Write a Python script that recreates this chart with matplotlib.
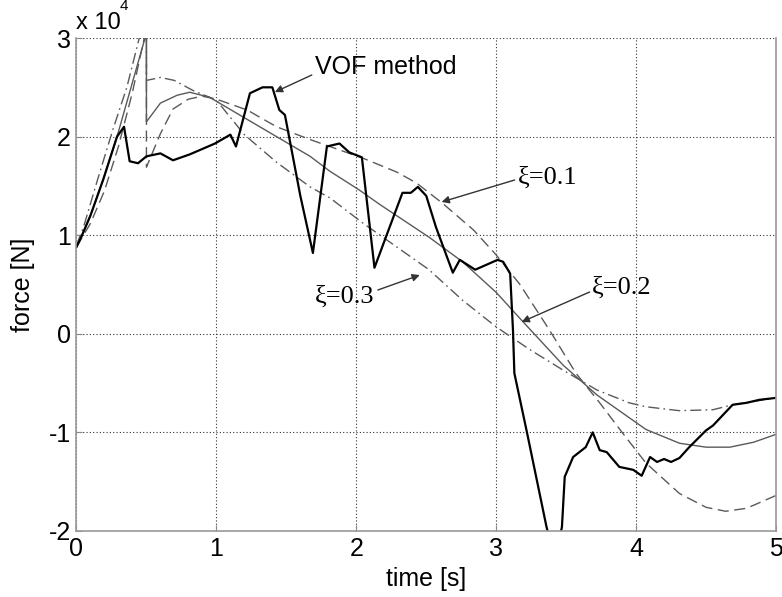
import matplotlib
matplotlib.use('Agg')
import matplotlib.pyplot as plt

# --------------------------------------------------------------
# Data (force in units of 1e4 N)

t_vof = [0, 0.04, 0.1, 0.19, 0.29, 0.34, 0.38, 0.44, 0.5, 0.6, 0.69, 0.81, 0.99, 1.1,
         1.14, 1.24, 1.33, 1.4, 1.45, 1.49, 1.6, 1.69, 1.79, 1.88, 1.95, 2.04, 2.13,
         2.33, 2.39, 2.44, 2.5, 2.57, 2.63, 2.69, 2.74, 2.85, 2.93, 3.01, 3.05, 3.1,
         3.12, 3.13, 3.22, 3.36, 3.42, 3.47, 3.49, 3.55, 3.64, 3.69, 3.74, 3.79, 3.88,
         3.98, 4.04, 4.1, 4.15, 4.2, 4.25, 4.31, 4.38, 4.5, 4.55, 4.69, 4.79, 4.88, 5.0]
f_vof = [0.88, 1.0, 1.2, 1.56, 2.0, 2.1, 1.75, 1.73, 1.8, 1.83, 1.76, 1.82, 1.93, 2.02,
         1.9, 2.44, 2.5, 2.5, 2.27, 2.22, 1.4, 0.82, 1.9, 1.93, 1.84, 1.79, 0.67,
         1.43, 1.43, 1.49, 1.4, 1.08, 0.85, 0.62, 0.75, 0.65, 0.7, 0.75, 0.73, 0.61,
         0.04, -0.4, -1.0, -1.96, -2.3, -1.96, -1.45, -1.25, -1.15, -1.0, -1.18, -1.2, -1.35,
         -1.38, -1.44, -1.25, -1.3, -1.27, -1.3, -1.26, -1.15, -0.98, -0.93, -0.72, -0.7, -0.67, -0.65]

# xi = 0.1 (dashed)
t_x1 = [0, 0.1, 0.2, 0.3, 0.4, 0.5, 0.5, 0.6, 0.69, 0.8, 0.9, 1.0, 1.22, 1.43, 1.67,
        1.81, 2.05, 2.29, 2.43, 2.62, 2.84, 3.0, 3.17, 3.38, 3.57, 3.74, 3.9, 4.07,
        4.31, 4.5, 4.64, 4.79, 5.0]
f_x1 = [0.88, 1.12, 1.45, 1.9, 2.45, 3.1, 1.69, 2.03, 2.28, 2.38, 2.41, 2.38, 2.27, 2.1, 1.97,
        1.9, 1.78, 1.64, 1.53, 1.32, 1.05, 0.8, 0.5, 0.04, -0.4, -0.7, -1.0, -1.31,
        -1.62, -1.76, -1.8, -1.77, -1.64]

# xi = 0.2 (solid)
t_x2 = [0, 0.1, 0.2, 0.3, 0.4, 0.49, 0.5, 0.5, 0.6, 0.72, 0.81, 0.95, 1.19, 1.43, 1.67,
        1.81, 2.02, 2.17, 2.52, 2.76, 3.0, 3.18, 3.48, 3.72, 3.95, 4.07, 4.31, 4.5,
        4.67, 4.84, 5.0]
f_x2 = [0.88, 1.2, 1.6, 2.05, 2.55, 3.0, 3.0, 2.15, 2.34, 2.42, 2.45, 2.4, 2.2, 2.0, 1.8,
        1.65, 1.46, 1.31, 0.98, 0.73, 0.42, 0.14, -0.32, -0.62, -0.85, -0.97, -1.11, -1.15,
        -1.15, -1.1, -1.02]

# xi = 0.3 (dash-dot)
t_x3 = [0, 0.05, 0.15, 0.26, 0.36, 0.44, 0.5, 0.5, 0.6, 0.7, 0.83, 1.0, 1.2, 1.43, 1.67,
        1.81, 2.05, 2.29, 2.52, 2.76, 3.0, 3.24, 3.48, 3.72, 3.95, 4.07, 4.31, 4.55,
        4.69, 5.0]
f_x3 = [0.9, 1.08, 1.56, 2.07, 2.5, 2.95, 3.3, 2.57, 2.6, 2.57, 2.47, 2.37, 2.02, 1.74, 1.49,
        1.38, 1.12, 0.88, 0.65, 0.34, 0.07, -0.16, -0.37, -0.57, -0.7, -0.74, -0.78, -0.77,
        -0.72, -0.65]

x_ticks = [0, 1, 2, 3, 4, 5]
y_ticks = [-2, -1, 0, 1, 2, 3]

# --------------------------------------------------------------
# Plot

plt.rcParams['font.family'] = ['Liberation Sans', 'DejaVu Sans']

fig = plt.figure(figsize=(7.82, 5.97), dpi=100)
ax = fig.add_axes([0.0978, 0.1106, 0.8945, 0.8257])

model_col = '#5a5a5a'
ax.plot(t_x3, f_x3, color=model_col, lw=1.0, dashes=(8, 3, 1.2, 3))
ax.plot(t_x1, f_x1, color=model_col, lw=1.0, dashes=(8, 4))
ax.plot(t_x2, f_x2, color=model_col, lw=1.0)
ax.plot(t_vof, f_vof, color='black', lw=1.6)

ax.set_xlim(0, 5)
ax.set_ylim(-2, 3)
ax.set_xticks(x_ticks)
ax.set_yticks(y_ticks)
ax.set_xticklabels([str(v) for v in x_ticks])
ax.set_yticklabels([str(v) for v in y_ticks])
ax.grid(True, color='#333333', lw=0.8, dashes=(1, 2))
ax.tick_params(direction='in', length=4, labelsize=18, color='#888888', pad=4)

ax.spines['top'].set_visible(False)
for s in ['left', 'bottom', 'right']:
    ax.spines[s].set_color('#999999')
    ax.spines[s].set_linewidth(1.2)

ax.set_xlabel('time [s]', fontsize=18, labelpad=5)
ax.set_ylabel('force [N]', fontsize=18, labelpad=10)

# exponent label
ax.text(0.0, 1.008, 'x 10', transform=ax.transAxes, fontsize=17, va='bottom', ha='left')
ax.text(0.062, 1.05, '4', transform=ax.transAxes, fontsize=11, va='bottom', ha='left')

# annotations
arrow = dict(arrowstyle='-|>', color='#333333', lw=1.0, mutation_scale=11, shrinkA=0, shrinkB=0)

ax.text(1.704, 2.706, 'VOF method', fontsize=18, va='center', ha='left')
ax.annotate('', xy=(1.418, 2.452), xytext=(1.682, 2.625), arrowprops=arrow)

serif = ['Liberation Serif', 'DejaVu Serif']
ax.text(3.154, 1.58, 'ξ=0.1', fontsize=19, va='center', ha='left', family=serif)
ax.annotate('', xy=(2.61, 1.337), xytext=(3.132, 1.56), arrowprops=arrow)

ax.text(1.704, 0.373, 'ξ=0.3', fontsize=19, va='center', ha='left', family=serif)
ax.annotate('', xy=(2.454, 0.596), xytext=(2.154, 0.444), arrowprops=arrow)

ax.text(3.682, 0.465, 'ξ=0.2', fontsize=19, va='center', ha='left', family=serif)
ax.annotate('', xy=(3.182, 0.12), xytext=(3.668, 0.424), arrowprops=arrow)

fig.savefig('out.png', dpi=100)
